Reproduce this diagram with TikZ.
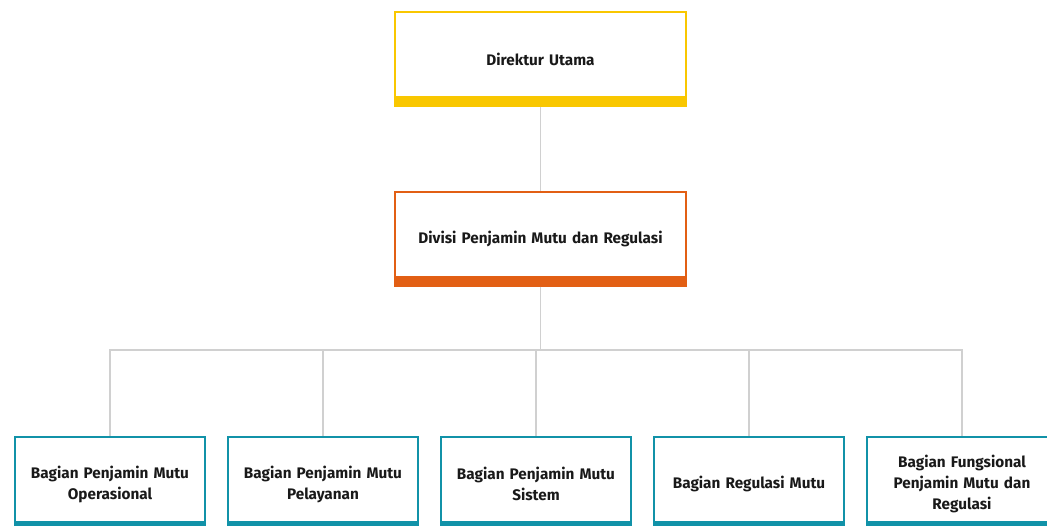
\documentclass[tikz,border=0pt]{standalone}
\usepackage{fontspec}
\setmainfont{Fira Sans}
\definecolor{kuning}{HTML}{F9C700}
\definecolor{oranye}{HTML}{E25F14}
\definecolor{tosca}{HTML}{1192A8}
\definecolor{garis}{HTML}{D0D0D0}
\tikzset{
 kotak/.style={draw=#1,line width=1.2pt,fill=white,minimum height=94pt,
  inner sep=0pt,align=center,font=\fontsize{15.3}{21}\selectfont\bfseries,text=black!90},
 atas/.style={kotak=#1,minimum width=291pt,text width=270pt},
 bawah/.style={kotak=#1,minimum width=190pt,text width=180pt},
 garis/.style={draw=garis,line width=1.4pt},
}
\begin{document}
\begin{tikzpicture}[x=1pt,y=-1pt]
 \useasboundingbox (0,0) rectangle (1047,526);
 \path
 (540.5,59) node[atas=kuning] (dir) {Direktur Utama} % <<< baris 1
 ++(0,180) node[atas=oranye] (div) {Divisi Penjamin Mutu dan Regulasi} % <<< baris 2
 (110,484) node[bawah=tosca] (b1) {Bagian Penjamin Mutu\\Operasional} % <<< baris 3
 ++(213,0) node[bawah=tosca] (b2) {Bagian Penjamin Mutu\\Pelayanan}
 ++(213,0) node[bawah=tosca] (b3) {Bagian Penjamin Mutu\\Sistem}
 ++(213,0) node[bawah=tosca] (b4) {Bagian Regulasi Mutu}
 ++(213,0) node[bawah=tosca] (b5) {Bagian Fungsional\\Penjamin Mutu dan\\Regulasi};
 \coordinate (bus) at (540.5,350);
 \fill[kuning] ([yshift=11]dir.south west) rectangle (dir.south east);
 \fill[oranye] ([yshift=11]div.south west) rectangle (div.south east);
 \fill[tosca] ([yshift=11]b1.south west) rectangle (b1.south east);
 \fill[tosca] ([yshift=11]b2.south west) rectangle (b2.south east);
 \fill[tosca] ([yshift=11]b3.south west) rectangle (b3.south east);
 \fill[tosca] ([yshift=11]b4.south west) rectangle (b4.south east);
 \fill[tosca] ([yshift=11]b5.south west) rectangle (b5.south east);
 \draw[garis] (dir) -- (div);
 \draw[garis] (div) -- (bus);
 \draw[garis] (bus) -| (b1);
 \draw[garis] (bus) -| (b2);
 \draw[garis] (bus) -| (b3);
 \draw[garis] (bus) -| (b4);
 \draw[garis] (bus) -| (b5);
\end{tikzpicture}
\end{document}
